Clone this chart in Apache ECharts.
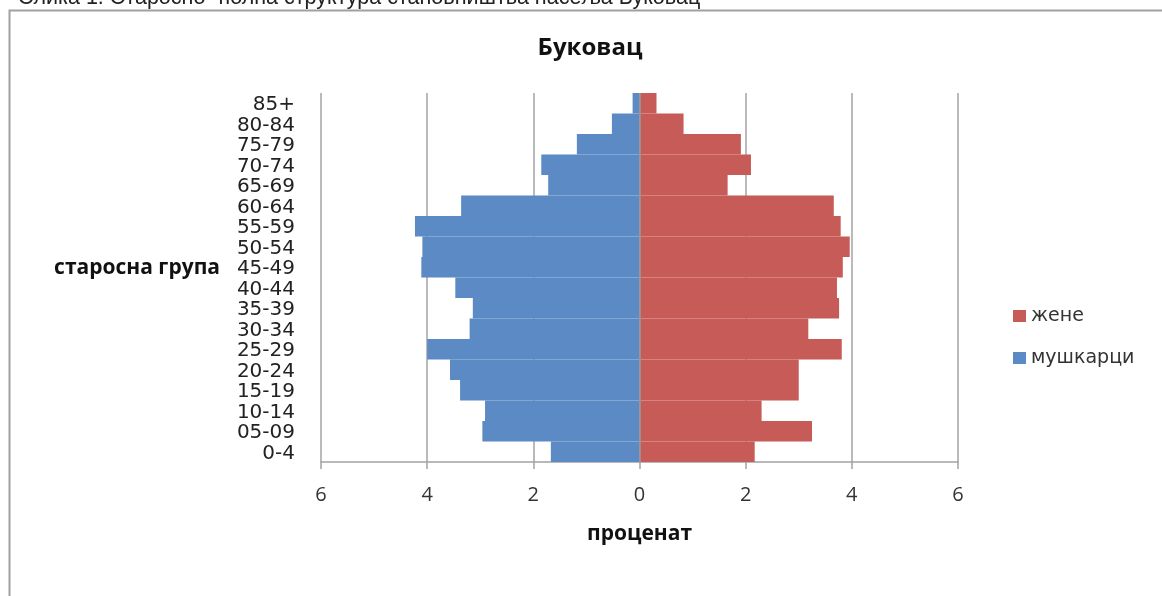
<!DOCTYPE html>
<html>
<head>
<meta charset="utf-8">
<script src="https://cdn.jsdelivr.net/npm/echarts@6/dist/echarts.min.js"></script>
<style>
html,body{margin:0;padding:0;background:#fff;}
#chart{width:1162px;height:596px;}
</style>
</head>
<body>
<div id="chart"></div>
<script>
const categories = ['0-4','05-09','10-14','15-19','20-24','25-29','30-34','35-39','40-44','45-49','50-54','55-59','60-64','65-69','70-74','75-79','80-84','85+'];
const male = [1.67, 2.96, 2.91, 3.38, 3.57, 4.00, 3.20, 3.14, 3.47, 4.11, 4.09, 4.23, 3.36, 1.72, 1.85, 1.18, 0.52, 0.13];
const female = [2.17, 3.25, 2.30, 3.00, 3.00, 3.81, 3.18, 3.76, 3.72, 3.83, 3.96, 3.79, 3.66, 1.66, 2.10, 1.91, 0.83, 0.32];
const xTicks = { min: -6, max: 6, interval: 2 };
const caption = 'Слика 1. Старосно- полна структура становништва насеља Буковац';
const chartTitle = 'Буковац';
const xName = 'проценат';
const yName = 'старосна група';
const seriesNames = ['жене', 'мушкарци'];

const chart = echarts.init(document.getElementById('chart'), null, { renderer: 'canvas' });
const gridColor = '#a3a3a3';
chart.setOption({
  animation: false,
  backgroundColor: '#ffffff',
  graphic: [
    { type: 'rect', z: -10, shape: { x: 9.5, y: 10.5, width: 1300, height: 700 },
      style: { fill: 'none', stroke: '#a0a0a0', lineWidth: 2 } },
    { type: 'text', x: 18, y: -2,
      style: { text: caption, font: '21.5px "Liberation Sans", Arial, sans-serif', fill: '#222', textVerticalAlign: 'middle', textAlign: 'left' } },
    { type: 'text', x: 590, y: 48,
      style: { text: chartTitle, font: 'bold 24px "Open Sans", sans-serif', fill: '#111', textAlign: 'center', textVerticalAlign: 'middle' } },
    { type: 'text', x: 220, y: 268,
      style: { text: yName, font: 'bold 21px "Open Sans", sans-serif', fill: '#111', textAlign: 'right', textVerticalAlign: 'middle' } }
  ],
  legend: {
    data: seriesNames,
    orient: 'vertical',
    left: 1008,
    top: 301,
    itemWidth: 13,
    itemHeight: 12,
    itemGap: 22,
    icon: 'rect',
    textStyle: { fontFamily: '"DejaVu Sans", sans-serif', fontSize: 19, color: '#333', lineHeight: 20 }
  },
  grid: { left: 321, right: 204, top: 93, bottom: 134, containLabel: false },
  xAxis: {
    type: 'value',
    min: xTicks.min, max: xTicks.max, interval: xTicks.interval,
    name: xName,
    nameLocation: 'middle',
    nameGap: 62,
    nameTextStyle: { fontFamily: '"Open Sans", sans-serif', fontWeight: 'bold', fontSize: 21, color: '#111' },
    axisLine: { show: true, onZero: false, lineStyle: { color: gridColor, width: 1.5 } },
    axisTick: { show: true, length: 7, lineStyle: { color: gridColor, width: 1.5 } },
    axisLabel: {
      margin: 23,
      fontFamily: '"Open Sans", sans-serif', fontSize: 20, color: '#333', lineHeight: 20,
      formatter: v => String(Math.abs(v))
    },
    splitLine: { show: true, lineStyle: { color: gridColor, width: 1.5 } }
  },
  yAxis: {
    type: 'category',
    data: categories,
    axisLine: { show: false },
    axisTick: { show: false },
    axisLabel: {
      margin: 26, interval: 0,
      formatter: v => '{c|' + v + '}',
      rich: { c: { fontFamily: '"DejaVu Sans", sans-serif', fontSize: 20, color: '#222', lineHeight: 20, padding: [4, 0, 0, 0] } }
    }
  },
  series: [
    {
      name: seriesNames[0], type: 'bar', stack: 'pop',
      barCategoryGap: '0%',
      itemStyle: { color: '#C65B57' },
      data: female,
      markLine: {
        silent: true, symbol: ['none', 'none'], label: { show: false },
        lineStyle: { color: '#9a9a9a', width: 1.5, type: 'solid' },
        data: [{ xAxis: 0 }]
      }
    },
    {
      name: seriesNames[1], type: 'bar', stack: 'pop',
      barCategoryGap: '0%',
      itemStyle: { color: '#5B8AC5' },
      data: male.map(v => -v)
    }
  ]
});
</script>
</body>
</html>
